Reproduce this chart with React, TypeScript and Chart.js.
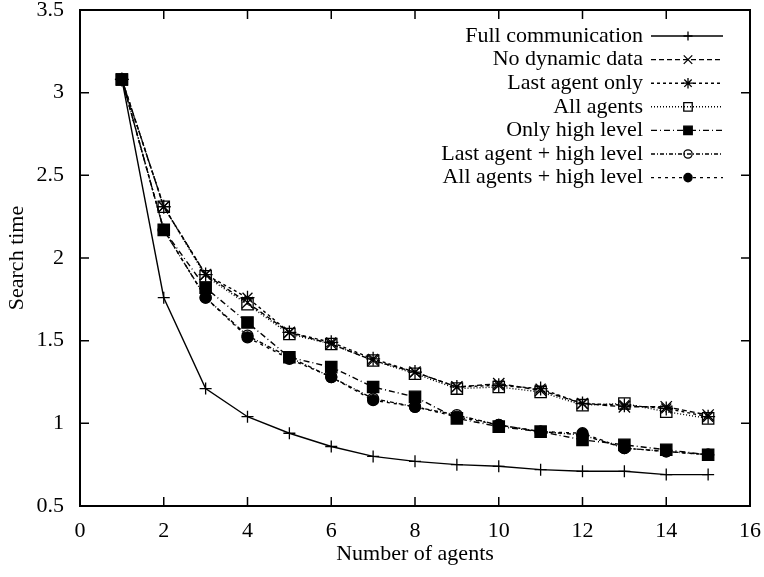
import React, { useEffect, useRef } from 'react';
import { Chart, registerables } from 'chart.js';
import { drawPoint } from 'chart.js/helpers';

Chart.register(...registerables);

const agents = [1, 2, 3, 4, 5, 6, 7, 8, 9, 10, 11, 12, 13, 14, 15];

const fullCommunication = [3.08, 1.76, 1.21, 1.04, 0.94, 0.86, 0.8, 0.77, 0.75, 0.74, 0.72, 0.71, 0.71, 0.69, 0.69];
const noDynamicData = [3.08, 2.31, 1.9, 1.73, 1.55, 1.48, 1.38, 1.31, 1.22, 1.24, 1.2, 1.12, 1.1, 1.1, 1.05];
const lastAgentOnly = [3.08, 2.31, 1.9, 1.76, 1.55, 1.49, 1.39, 1.31, 1.22, 1.23, 1.21, 1.12, 1.11, 1.09, 1.04];
const allAgents = [3.08, 2.31, 1.89, 1.72, 1.54, 1.48, 1.38, 1.3, 1.21, 1.22, 1.19, 1.11, 1.12, 1.07, 1.03];
const onlyHighLevel = [3.08, 2.17, 1.82, 1.61, 1.4, 1.34, 1.22, 1.16, 1.03, 0.98, 0.95, 0.9, 0.87, 0.84, 0.81];
const lastAgentHighLevel = [3.08, 2.17, 1.76, 1.53, 1.4, 1.28, 1.15, 1.1, 1.05, 0.99, 0.95, 0.93, 0.85, 0.83, 0.81];
const allAgentsHighLevel = [3.08, 2.17, 1.76, 1.52, 1.39, 1.28, 1.14, 1.1, 1.04, 0.99, 0.95, 0.94, 0.85, 0.83, 0.81];

const seriesLabels = [
  'Full communication',
  'No dynamic data',
  'Last agent only',
  'All agents',
  'Only high level',
  'Last agent + high level',
  'All agents + high level',
];

const xTitle = 'Number of agents';
const yTitle = 'Search time';

const FONT = '"Liberation Serif", "Times New Roman", serif';
const FS = 22;

const styles = [
  { dash: [], point: 'cross', r: 6, fill: 'rgba(0,0,0,0)' },
  { dash: [5, 3], point: 'crossRot', r: 8, fill: 'rgba(0,0,0,0)' },
  { dash: [3, 3], point: 'star', r: 7, fill: 'rgba(0,0,0,0)' },
  { dash: [1, 2], point: 'rect', r: 8, fill: 'rgba(0,0,0,0)' },
  { dash: [6, 3, 1, 3], point: 'rect', r: 8, fill: '#000' },
  { dash: [4, 2, 1, 2], point: 'circle', r: 5.5, fill: 'rgba(0,0,0,0)' },
  { dash: [3, 4], point: 'circle', r: 5.5, fill: '#000' },
];

const framePlugin = {
  id: 'frame',
  beforeDatasetsDraw(chart: any) {
    const { ctx, chartArea, scales } = chart;
    const { left, right, top, bottom } = chartArea;
    const xs = scales.x;
    const ys = scales.y;
    const len = 9;
    ctx.save();
    ctx.strokeStyle = '#000';
    ctx.lineWidth = 1.5;
    ctx.setLineDash([]);
    ctx.beginPath();
    xs.ticks.forEach((t: any) => {
      const px = xs.getPixelForValue(t.value);
      ctx.moveTo(px, bottom);
      ctx.lineTo(px, bottom - len);
      ctx.moveTo(px, top);
      ctx.lineTo(px, top + len);
    });
    ys.ticks.forEach((t: any) => {
      const py = ys.getPixelForValue(t.value);
      ctx.moveTo(left, py);
      ctx.lineTo(left + len, py);
      ctx.moveTo(right, py);
      ctx.lineTo(right - len, py);
    });
    ctx.stroke();
    ctx.lineWidth = 2;
    ctx.strokeRect(left, top, right - left, bottom - top);
    ctx.restore();
  },
};

const legendPlugin = {
  id: 'gnuLegend',
  afterDatasetsDraw(chart: any) {
    const { ctx, chartArea } = chart;
    const right = chartArea.right;
    const top = chartArea.top;
    ctx.save();
    chart.data.datasets.forEach((ds: any, i: number) => {
      const yy = top + 26 + i * 23.6;
      ctx.fillStyle = '#000';
      ctx.font = `${FS}px ${FONT}`;
      ctx.textAlign = 'right';
      ctx.textBaseline = 'middle';
      ctx.fillText(ds.label, right - 107, yy);
      ctx.strokeStyle = '#000';
      ctx.lineWidth = ds.borderWidth;
      ctx.setLineDash(ds.borderDash || []);
      ctx.beginPath();
      ctx.moveTo(right - 99, yy);
      ctx.lineTo(right - 27, yy);
      ctx.stroke();
      ctx.setLineDash([]);
      ctx.fillStyle = ds.pointBackgroundColor;
      ctx.strokeStyle = '#000';
      ctx.lineWidth = 1.3;
      drawPoint(
        ctx,
        { pointStyle: ds.pointStyle, radius: ds.pointRadius * 0.75, rotation: 0, borderWidth: 1.3 } as any,
        right - 62,
        yy
      );
    });
    ctx.restore();
  },
};

const zeroPad = (s: any) => {
  s.paddingTop = 0;
  s.paddingBottom = 0;
  s.paddingLeft = 0;
  s.paddingRight = 0;
};

export default function App() {
  const canvasRef = useRef<HTMLCanvasElement | null>(null);

  useEffect(() => {
    if (!canvasRef.current) return;
    const seriesValues = [
      fullCommunication,
      noDynamicData,
      lastAgentOnly,
      allAgents,
      onlyHighLevel,
      lastAgentHighLevel,
      allAgentsHighLevel,
    ];
    const datasets = seriesValues.map((vals, i) => ({
      label: seriesLabels[i],
      data: agents.map((a, j) => ({ x: a, y: vals[j] })),
      borderColor: '#000',
      borderWidth: 1.4,
      borderDash: styles[i].dash,
      pointStyle: styles[i].point,
      pointRadius: styles[i].r,
      pointBackgroundColor: styles[i].fill,
      pointBorderColor: '#000',
      pointBorderWidth: 1.3,
      backgroundColor: styles[i].fill,
      fill: false,
      tension: 0,
      order: seriesValues.length - i,
    }));

    const chart = new Chart(canvasRef.current, {
      type: 'line',
      data: { datasets } as any,
      options: {
        animation: false,
        responsive: false,
        layout: { padding: { top: 10, right: 14, left: 0, bottom: 0 } },
        plugins: {
          legend: { display: false },
          tooltip: { enabled: false },
        },
        scales: {
          x: {
            type: 'linear',
            min: 0,
            max: 16,
            ticks: {
              stepSize: 2,
              color: '#000',
              font: { family: FONT, size: FS, lineHeight: 1 },
              padding: 14,
              maxRotation: 0,
              callback: (v: any) => `${+v}`,
            },
            grid: { display: false, drawTicks: false },
            border: { display: false },
            title: {
              display: true,
              text: xTitle,
              color: '#000',
              font: { family: FONT, size: FS },
              padding: { top: 0, bottom: 10 },
            },
            afterFit: (s: any) => {
              s.height = 71;
              zeroPad(s);
            },
          },
          y: {
            type: 'linear',
            min: 0.5,
            max: 3.5,
            ticks: {
              stepSize: 0.5,
              color: '#000',
              font: { family: FONT, size: FS, lineHeight: 1 },
              padding: 16,
              callback: (v: any) => `${+v}`,
            },
            grid: { display: false, drawTicks: false },
            border: { display: false },
            title: {
              display: true,
              text: yTitle,
              color: '#000',
              font: { family: FONT, size: FS },
              padding: { top: 4, bottom: 4 },
            },
            afterFit: (s: any) => {
              s.width = 80;
              zeroPad(s);
            },
          },
        },
      } as any,
      plugins: [framePlugin, legendPlugin],
    });
    return () => chart.destroy();
  }, []);

  return (
    <div style={{ position: 'absolute', left: 0, top: 0, width: 764, height: 577, background: '#fff' }}>
      <canvas ref={canvasRef} width={764} height={577} style={{ display: 'block' }} />
    </div>
  );
}
